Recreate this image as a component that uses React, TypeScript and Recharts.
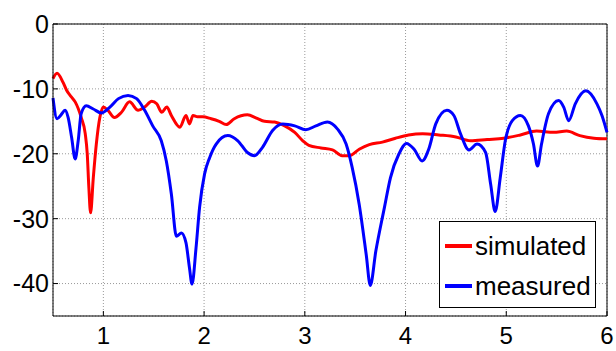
import React from 'react';
import { LineChart, Line, XAxis, YAxis, CartesianGrid, ReferenceLine } from 'recharts';

const simFreq = [0.5, 0.54, 0.6, 0.635, 0.68, 0.72, 0.78, 0.82, 0.84, 0.856, 0.873, 0.9, 0.93, 0.965, 1.0, 1.045, 1.11, 1.18, 1.26, 1.345, 1.41, 1.48, 1.53, 1.58, 1.63, 1.675, 1.76, 1.82, 1.855, 1.89, 1.935, 1.985, 2.07, 2.15, 2.22, 2.3, 2.43, 2.52, 2.6, 2.7, 2.8, 2.9, 2.98, 3.04, 3.16, 3.275, 3.37, 3.44, 3.54, 3.64, 3.77, 3.9, 4.03, 4.17, 4.33, 4.5, 4.645, 4.81, 4.975, 5.14, 5.3, 5.47, 5.6, 5.73, 5.87, 6.0];
const simDb = [-8.4, -7.6, -9.0, -10.2, -11.2, -12.0, -14.4, -16.9, -20, -25.2, -29.1, -23.7, -18.5, -14.4, -12.8, -13.3, -14.4, -13.6, -12.0, -13.3, -12.8, -11.9, -12.3, -13.6, -12.8, -14.1, -15.9, -14.1, -15.4, -14.1, -14.3, -14.3, -14.6, -15.0, -15.5, -14.6, -14.0, -14.5, -15.0, -15.1, -15.7, -16.7, -18.0, -18.7, -19.1, -19.4, -20.3, -20.3, -19.3, -18.6, -18.2, -17.6, -17.1, -16.9, -17.1, -17.4, -18.0, -17.8, -17.6, -17.1, -16.5, -16.7, -16.5, -17.2, -17.6, -17.7];

const measFreq = [0.5, 0.54, 0.58, 0.62, 0.65, 0.685, 0.72, 0.75, 0.78, 0.83, 0.9, 0.98, 1.065, 1.15, 1.245, 1.33, 1.41, 1.49, 1.575, 1.625, 1.675, 1.725, 1.775, 1.82, 1.855, 1.88, 1.92, 1.955, 2.005, 2.055, 2.12, 2.235, 2.335, 2.43, 2.5, 2.58, 2.68, 2.78, 2.9, 3.01, 3.11, 3.225, 3.325, 3.41, 3.47, 3.54, 3.61, 3.65, 3.705, 3.79, 3.85, 3.935, 4.01, 4.085, 4.165, 4.23, 4.3, 4.41, 4.48, 4.545, 4.63, 4.71, 4.795, 4.845, 4.89, 4.94, 4.99, 5.06, 5.14, 5.22, 5.27, 5.31, 5.35, 5.42, 5.52, 5.57, 5.62, 5.685, 5.79, 5.9, 5.95, 6.0];
const measDb = [-11.4, -14.6, -14.0, -13.3, -14.4, -17.5, -20.8, -18.0, -13.8, -12.6, -13.1, -13.7, -12.8, -11.5, -11.0, -11.5, -13.3, -15.7, -18.0, -21.1, -26.2, -32.7, -32.2, -33.7, -37.6, -40.1, -34.5, -28.3, -23.1, -20.6, -18.5, -17.2, -18.0, -19.8, -20.3, -19.0, -16.4, -15.4, -15.7, -16.3, -15.7, -15.1, -16.2, -18.5, -22.1, -27.8, -35.6, -40.3, -35.0, -28.3, -23.7, -20.0, -18.4, -19.3, -21.1, -19.3, -15.4, -13.3, -14.1, -16.9, -19.4, -18.5, -19.8, -24.7, -28.9, -23.7, -18.0, -14.9, -14.1, -15.7, -18.5, -21.9, -18.5, -13.8, -11.8, -12.8, -14.9, -12.3, -10.3, -12.3, -14.1, -16.7];

const xTicks = [1, 2, 3, 4, 5, 6];
const yTicks = [0, -10, -20, -30, -40];

const seriesNames = ['simulated', 'measured'];
const seriesColors = ['#ff0000', '#0000ff'];

const simulated = simFreq.map((f, i) => ({ f, v: simDb[i] }));
const measured = measFreq.map((f, i) => ({ f, v: measDb[i] }));

const FONT = '"Liberation Sans", Arial, sans-serif';

// legend drawn as a plain overlay so the plot keeps its full height
const LegendBox = () => (
  <div style={{ position: 'absolute', left: 439, top: 221, width: 157, height: 87, border: '1.5px solid #000', background: '#fff', boxSizing: 'border-box', padding: '4px 0 0 5px', fontFamily: FONT, fontSize: 26 }}>
    {seriesNames.map((name, i) => (
      <div key={name} style={{ display: 'flex', alignItems: 'center', height: 40 }}>
        <span style={{ display: 'inline-block', width: 27, height: 4, background: seriesColors[i], marginRight: 3 }} />
        <span style={{ color: '#000' }}>{name}</span>
      </div>
    ))}
  </div>
);

export default function App() {
  return (
    <div style={{ position: 'fixed', left: 0, top: 0, width: 616, height: 351, background: '#fff' }}>
      <LineChart width={616} height={351} margin={{ top: 24, right: 9, bottom: 0, left: 0 }}>
        <CartesianGrid stroke="#9a9a9a" strokeDasharray="1 2" />
        <XAxis
          dataKey="f"
          type="number"
          domain={[0.5, 6]}
          ticks={xTicks}
          allowDuplicatedCategory={false}
          height={35}
          stroke="#000"
          tickSize={-5}
          tickMargin={16}
          tick={{ fill: '#000', fontSize: 24, fontFamily: FONT }}
        />
        <YAxis
          type="number"
          domain={[-45, 0]}
          ticks={yTicks}
          width={53}
          stroke="#000"
          tickSize={-5}
          tickMargin={9}
          tick={{ fill: '#000', fontSize: 25, fontFamily: FONT }}
        />
        <ReferenceLine y={0} stroke="#000" strokeWidth={1} />
        <ReferenceLine x={6} stroke="#000" strokeWidth={1} />
        <Line data={simulated} dataKey="v" name={seriesNames[0]} type="monotone" stroke={seriesColors[0]} strokeWidth={3} dot={false} isAnimationActive={false} />
        <Line data={measured} dataKey="v" name={seriesNames[1]} type="monotone" stroke={seriesColors[1]} strokeWidth={3} dot={false} isAnimationActive={false} />
      </LineChart>
      <LegendBox />
    </div>
  );
}
